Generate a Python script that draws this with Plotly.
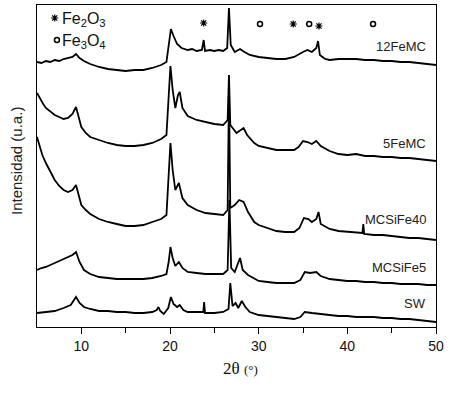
import plotly.graph_objects as go

# ---- data (intensity, arbitrary units, offsets included) ----
x_12femc = [5, 5.5, 6, 6.5, 7, 7.5, 8, 8.5, 9, 9.4, 9.8, 10.3, 11, 12, 13, 14, 15, 16, 17, 18, 19, 19.6, 19.9, 20.1, 20.4, 20.8, 21.3, 22, 22.5, 23, 23.6, 23.8, 23.95, 24.5, 25, 25.5, 26, 26.45, 26.65, 26.85, 27.3, 27.9, 28.4, 29, 30, 31, 32, 33, 34, 35, 35.5, 36, 36.5, 36.7, 36.9, 37.5, 38, 39, 40, 41, 42, 43, 44, 45, 46, 47, 48, 49, 50]
y_12femc = [265, 264, 266, 265, 267, 266, 268, 269, 270, 273, 269, 266, 263, 260, 258, 257, 256, 257, 257, 259, 262, 265, 287, 298, 291, 283, 279, 277, 278, 276, 277, 287, 276, 277, 276, 277, 276, 279, 319, 282, 275, 278, 275, 272, 270, 269, 268, 268, 270, 275, 277, 275, 279, 286, 272, 268, 267, 268, 268, 268, 267, 267, 266, 266, 265, 265, 264, 263, 262]

x_5femc = [5, 5.3, 5.7, 6, 6.5, 7, 7.5, 8, 8.5, 9, 9.4, 9.7, 10, 10.5, 11, 12, 13, 14, 15, 16, 17, 18, 19, 19.6, 19.85, 20.05, 20.3, 20.6, 20.9, 21.1, 21.4, 22, 23, 24, 25, 26, 26.5, 26.65, 26.8, 27.5, 28, 28.3, 28.7, 29.5, 30, 31, 32, 33, 34, 34.5, 35, 35.5, 36, 36.5, 37, 38, 39, 40, 41, 42, 43, 44, 45, 46, 47, 48, 49, 50]
y_5femc = [234, 229, 223, 219, 215, 212, 210, 208, 209, 213, 220, 209, 200, 194, 190, 187, 184, 182, 181, 181, 182, 184, 188, 192, 227, 261, 237, 219, 232, 235, 219, 211, 207, 205, 203, 202, 207, 252, 202, 194, 197, 199, 192, 184, 181, 179, 177, 177, 177, 180, 186, 185, 183, 186, 181, 176, 173, 172, 173, 171, 171, 170, 170, 169, 169, 168, 167, 166]

x_mcsife40 = [5, 5.3, 5.6, 6, 6.5, 7, 7.5, 8, 8.5, 9, 9.4, 9.7, 10, 10.5, 11, 12, 13, 14, 15, 16, 17, 18, 19, 19.6, 19.85, 20.05, 20.3, 20.6, 21.0, 21.4, 22, 23, 24, 25, 26, 26.5, 26.65, 26.8, 27.3, 27.8, 28.3, 28.8, 29.5, 30, 31, 32, 33, 34, 34.6, 35.1, 35.6, 36, 36.5, 36.75, 37, 38, 39, 40, 41, 41.7, 41.8, 41.9, 43, 44, 45, 46, 47, 48, 49, 50]
y_mcsife40 = [190, 182, 172, 164, 155, 147, 141, 137, 135, 137, 142, 132, 122, 117, 113, 108, 105, 103, 101, 101, 102, 105, 108, 112, 152, 184, 157, 137, 144, 129, 122, 117, 114, 113, 112, 117, 235, 119, 122, 127, 125, 115, 105, 102, 99, 96, 95, 95, 99, 109, 108, 105, 108, 115, 103, 98, 96, 95, 94, 94, 103, 93, 92, 92, 91, 90, 89, 89, 88, 87]

x_mcsife5 = [5, 5.5, 6, 6.5, 7, 7.5, 8, 8.5, 9, 9.4, 9.8, 10.3, 11, 12, 13, 14, 15, 16, 17, 18, 19, 19.6, 19.85, 20.05, 20.3, 20.6, 21, 21.4, 22, 23, 24, 25, 26, 26.5, 26.7, 26.9, 27.3, 27.9, 28.2, 28.8, 29.5, 30, 31, 32, 33, 34, 34.7, 35.2, 35.8, 36.5, 37, 38, 39, 40, 41, 42, 43, 44, 45, 46, 47, 48, 49, 50]
y_mcsife5 = [57, 59, 60, 62, 64, 66, 68, 70, 72, 75, 65, 57, 53, 50, 49, 48, 48, 48, 48, 49, 51, 53, 65, 80, 69, 61, 65, 59, 55, 54, 53, 53, 53, 57, 127, 59, 55, 69, 57, 52, 48, 46, 45, 44, 44, 44, 47, 55, 54, 55, 51, 48, 47, 46, 46, 45, 45, 44, 44, 43, 43, 43, 42, 42]

x_sw = [5, 6, 7, 8, 8.8, 9.4, 9.8, 10.3, 11, 12, 13, 14, 15, 16, 17, 18, 18.5, 18.7, 18.9, 19.3, 19.8, 20.1, 20.4, 20.8, 21.1, 21.5, 22, 23, 23.75, 23.85, 23.95, 24.5, 25, 26, 26.6, 26.8, 27.05, 27.4, 27.7, 28.1, 28.5, 29, 30, 31, 32, 33, 34, 34.7, 35.2, 36, 37, 38, 39, 40, 41, 42, 43, 44, 45, 46, 47, 48, 49, 50]
y_sw = [14, 15, 16, 19, 22, 30, 24, 20, 18, 16, 16, 15, 15, 14, 14, 15, 17, 20, 16, 13, 19, 30, 23, 20, 22, 17, 15, 15, 15, 25, 14, 14, 14, 15, 18, 44, 21, 24, 19, 26, 20, 15, 12, 11, 10, 9, 8, 10, 15, 14, 13, 12, 11, 11, 10, 10, 10, 9, 9, 8, 8, 7, 6, 5]

series_names = ["12FeMC", "5FeMC", "MCSiFe40", "MCSiFe5", "SW"]
label_y = [281, 184, 108, 60, 24]

# phase markers above peaks
fe2o3_x = [23.8, 33.9, 36.8]
fe2o3_y = [304, 303, 301]
fe3o4_x = [30.15, 35.7, 42.9]
fe3o4_y = [303, 303, 303]

legend_sym_x = [7.0, 7.25]
legend_sym_y = [309, 287]

fig = go.Figure()
line_style = dict(color="black", width=1.8)
for xs, ys, nm in [(x_12femc, y_12femc, "12FeMC"), (x_5femc, y_5femc, "5FeMC"),
                   (x_mcsife40, y_mcsife40, "MCSiFe40"), (x_mcsife5, y_mcsife5, "MCSiFe5"),
                   (x_sw, y_sw, "SW")]:
    fig.add_trace(go.Scatter(x=xs, y=ys, mode="lines", line=line_style, name=nm, showlegend=False))

fig.add_trace(go.Scatter(x=fe2o3_x + [legend_sym_x[0]], y=fe2o3_y + [legend_sym_y[0]], mode="markers",
                         marker=dict(symbol="asterisk-open", size=6, color="black",
                                     line=dict(color="black", width=1.2)),
                         showlegend=False))
fig.add_trace(go.Scatter(x=fe3o4_x + [legend_sym_x[1]], y=fe3o4_y + [legend_sym_y[1]], mode="markers",
                         marker=dict(symbol="circle-open", size=5, color="black",
                                     line=dict(color="black", width=1.5)),
                         showlegend=False))

for nm, ly in zip(series_names, label_y):
    fig.add_annotation(x=49.1, y=ly, text=nm, showarrow=False, xanchor="right", yanchor="middle",
                       font=dict(family="Liberation Sans, Arial", size=13, color="#222"))

fig.add_annotation(x=7.6, y=308, text="Fe<sub>2</sub>O<sub>3</sub>", showarrow=False, xanchor="left",
                   yanchor="middle", font=dict(family="Liberation Sans, Arial", size=16, color="#111"))
fig.add_annotation(x=7.6, y=286, text="Fe<sub>3</sub>O<sub>4</sub>", showarrow=False, xanchor="left",
                   yanchor="middle", font=dict(family="Liberation Sans, Arial", size=16, color="#111"))

fig.add_annotation(xref="paper", yref="paper", x=-0.053, y=0.515, text="Intensidad (u.a.)", textangle=-90,
                   showarrow=False, xanchor="center", yanchor="middle",
                   font=dict(family="Liberation Sans, Arial", size=15, color="#222"))
fig.add_annotation(xref="paper", yref="paper", x=0.511, y=-0.13, showarrow=False, xanchor="center", yanchor="middle",
                   text="2θ <span style='font-size:13px'>(°)</span>",
                   font=dict(family="Liberation Serif, Times New Roman, serif", size=17, color="#111"))

fig.update_xaxes(range=[5, 50], tickvals=[10, 20, 30, 40, 50], ticks="outside", ticklen=6, tickcolor="black",
                 showline=True, linecolor="black", linewidth=1, mirror=True, showgrid=False, zeroline=False,
                 ticklabeloverflow="allow",
                 tickfont=dict(family="Liberation Sans, Arial", size=14, color="#111"),
                 minor=dict(tickvals=[15, 25, 35, 45], ticks="outside", ticklen=5, tickcolor="black"))
fig.update_yaxes(range=[0, 322], showticklabels=False, ticks="", showline=True, linecolor="black", linewidth=1,
                 mirror=True, showgrid=False, zeroline=False)

fig.update_layout(width=452, height=394, margin=dict(l=37, r=16, t=5, b=67),
                  plot_bgcolor="white", paper_bgcolor="white")

fig.write_html("out.html", config={"displayModeBar": False},
               post_script="document.body.style.margin='0';document.body.style.padding='0';document.body.style.overflow='hidden';")
